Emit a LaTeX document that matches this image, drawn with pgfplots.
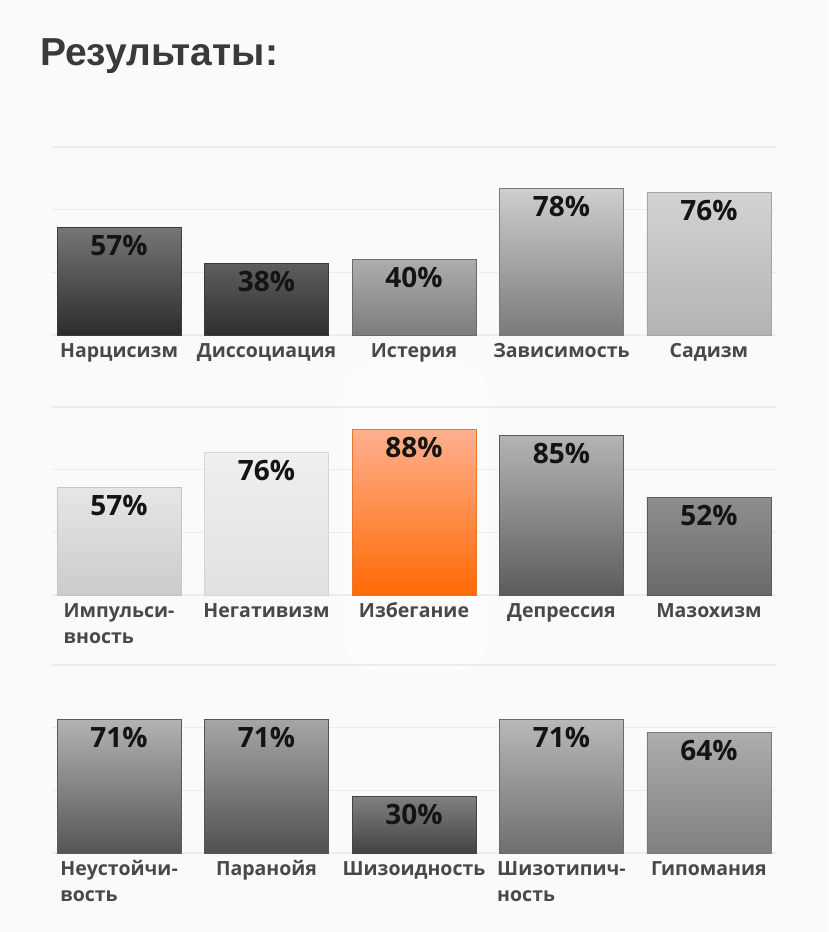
\documentclass[border=0pt]{standalone}
\usepackage{fontspec}
\setmainfont{Open Sans}
\newfontfamily\titlefont{Liberation Sans}
\usepackage{pgfplots}
\pgfplotsset{compat=1.18}
\definecolor{bg}{HTML}{FAFAFA}
\definecolor{gridc}{HTML}{ECECEC}
\definecolor{labc}{HTML}{484848}
\definecolor{titc}{HTML}{3A3A3A}
\newcommand\two[2]{\begin{tabular}[t]{@{}l@{}}#1\\#2\end{tabular}}
% bar colours: top, middle, bottom, border
\newcommand\bc[5]{\definecolor{#1t}{HTML}{#2}\definecolor{#1m}{HTML}{#3}\definecolor{#1b}{HTML}{#4}\definecolor{#1d}{HTML}{#5}}
\bc{a1}{767676}{4C4C4C}{2C2C2C}{3A3A3A}
\bc{a2}{5E5E5E}{454545}{2F2F2F}{3A3A3A}
\bc{a3}{ADADAD}{959595}{7C7C7C}{6A6A6A}
\bc{a4}{CECECE}{C4C4C4}{7A7A7A}{7A7A7A}
\bc{a5}{D3D3D3}{CECECE}{B3B3B3}{A5A5A5}
\bc{b1}{E6E6E6}{DFDFDF}{CBCBCB}{C4C4C4}
\bc{b2}{EFEFEF}{EBEBEB}{E1E1E1}{D6D6D6}
\bc{b3}{FFAF8E}{FF8A4A}{FF6A05}{E8782E}
\bc{b4}{B4B4B4}{9A9A9A}{5C5C5C}{5A5A5A}
\bc{b5}{8E8E8E}{7D7D7D}{6A6A6A}{5A5A5A}
\bc{c1}{B3B3B3}{A4A4A4}{555555}{5A5A5A}
\bc{c2}{A6A6A6}{808080}{515151}{555555}
\bc{c3}{808080}{606060}{434343}{444444}
\bc{c4}{B8B8B8}{A4A4A4}{6E6E6E}{6A6A6A}
\bc{c5}{ADADAD}{9C9C9C}{7F7F7F}{7A7A7A}
\pgfplotsset{
  rowaxis/.style={
    anchor=south west, width=724pt, height=188pt, scale only axis,
    xmin=-0.455, xmax=4.455, ymin=0, ymax=100,
    xtick={0,1,2,3,4},
    ytick={0,33.333,66.667,100}, yticklabels={},
    ymajorgrids, grid style={gridc, line width=1.3pt},
    axis line style={draw=none}, major tick length=0pt,
    clip=false,
    /pgf/number format/assume math mode=true,
    xticklabel style={font=\fontsize{19.5}{26}\selectfont\bfseries, text=labc, anchor=base, yshift=-22.5pt},
    ybar, bar width=124pt,
    nodes near coords={\pgfmathprintnumber{\pgfplotspointmeta}\%},
    every node near coord/.append style={anchor=north, yshift=-4pt, font=\fontsize{28}{30}\selectfont\bfseries, text=black!92},
  },
  b/.style={bar shift=0pt, draw=#1d, line width=0.8pt, top color=#1t, middle color=#1m, bottom color=#1b},
}
\begin{document}
\begin{tikzpicture}
\path[fill=bg, use as bounding box] (0,0) rectangle (828pt,-932pt);
\fill[white, opacity=0.55, rounded corners=40pt] (342pt,-362pt) rectangle (490pt,-672pt);
\node[anchor=base west, font=\titlefont\bfseries\fontsize{39}{41}\selectfont, text=titc, inner sep=0pt] at (40pt,-65pt) {Результаты:};

% Row 1
\begin{axis}[rowaxis, at={(52pt,-335pt)},
  xticklabels={Нарцисизм, Диссоциация, Истерия, Зависимость, Садизм}]
\addplot[b=a1] coordinates {(0,57)};
\addplot[b=a2] coordinates {(1,38)};
\addplot[b=a3] coordinates {(2,40)};
\addplot[b=a4] coordinates {(3,78)};
\addplot[b=a5] coordinates {(4,76)};
\end{axis}

% Row 2
\begin{axis}[rowaxis, at={(52pt,-595pt)},
  xticklabels={{\two{Импульси-}{вность}}, Негативизм, Избегание, Депрессия, Мазохизм}]
\addplot[b=b1] coordinates {(0,57)};
\addplot[b=b2] coordinates {(1,76)};
\addplot[b=b3] coordinates {(2,88)};
\addplot[b=b4] coordinates {(3,85)};
\addplot[b=b5] coordinates {(4,52)};
\end{axis}

% Row 3
\begin{axis}[rowaxis, at={(52pt,-853pt)},
  xticklabels={{\two{Неустойчи-}{вость}}, Паранойя, Шизоидность, {\two{Шизотипич-}{ность}}, Гипомания}]
\addplot[b=c1] coordinates {(0,71)};
\addplot[b=c2] coordinates {(1,71)};
\addplot[b=c3] coordinates {(2,30)};
\addplot[b=c4] coordinates {(3,71)};
\addplot[b=c5] coordinates {(4,64)};
\end{axis}
\end{tikzpicture}
\end{document}
